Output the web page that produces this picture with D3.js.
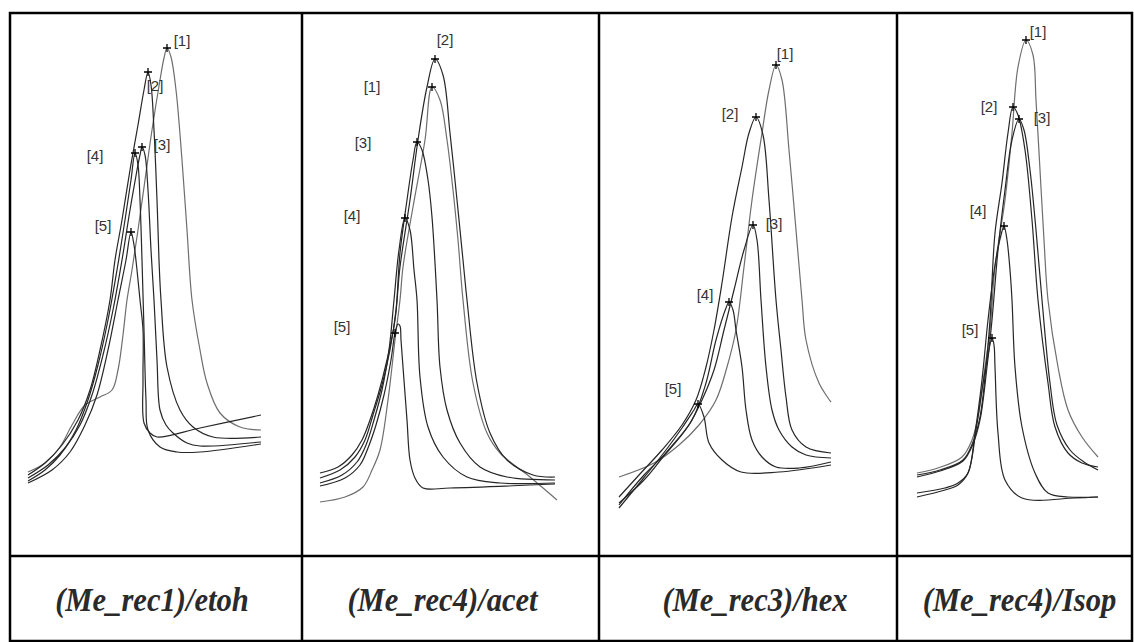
<!DOCTYPE html>
<html>
<head>
<meta charset="utf-8">
<script src="https://cdn.jsdelivr.net/npm/d3@7"></script>
<style>
  body { margin: 0; background: #fff; }
</style>
</head>
<body>
<div id="chart"></div>
<script>
"use strict";

const WIDTH = 1134, HEIGHT = 642;

// column titles
var titles = ["(Me_rec1)/etoh", "(Me_rec4)/acet", "(Me_rec3)/hex", "(Me_rec4)/Isop"];
var peakNames = ["[1]", "[2]", "[3]", "[4]", "[5]"];

// traces: [time, signal], one array per injection
var etohCurves = [
  [[18,58],[35,67],[50,83],[62,105],[75,125],[90,133],[102,140],[108,160],[113,195],[117,230],[122,260],[128,300],[135,350],[142,400],[150,450],[154,472],[157,482],[161,473],[166,440],[172,370],[177,300],[182,230],[190,180],[197,147],[210,117],[230,103],[251,100]],
  [[18,55],[35,67],[52,85],[68,110],[80,140],[90,180],[100,230],[105,270],[112,310],[120,360],[128,405],[134,440],[138,458],[141,445],[144,400],[147,330],[149,270],[151,230],[157,163],[170,120],[183,103],[203,93],[251,93]],
  [[18,52],[38,65],[55,82],[70,105],[82,135],[93,175],[103,220],[112,270],[120,320],[127,360],[130,375],[132,383],[135,375],[138,340],[141,280],[144,230],[147,170],[150,120],[156,105],[163,97],[177,87],[190,84],[251,88]],
  [[18,49],[35,60],[50,75],[66,100],[78,130],[88,165],[98,210],[107,260],[115,310],[121,350],[125,377],[128,365],[130,330],[132,270],[134,200],[136,130],[138,100],[150,83],[167,78],[190,78],[251,86]],
  [[18,47],[42,60],[60,78],[75,105],[87,135],[98,180],[108,230],[116,270],[121,298],[124,285],[127,260],[130,230],[133,200],[133,150],[134,107],[140,97],[147,93],[190,102],[251,115]]
];
var etohPeaks = [[157,482],[138,458],[132,383],[125,377],[121,298]];

var acetCurves = [
  [[18,28],[43,33],[61,43],[70,60],[78,80],[86,130],[93,190],[98,230],[101,263],[111,323],[123,390],[130,443],[138,430],[145,390],[151,340],[156,290],[161,230],[171,147],[185,97],[198,77],[228,53],[255,30]],
  [[18,57],[36,63],[50,75],[60,90],[68,110],[76,135],[85,170],[93,210],[98,263],[108,330],[116,390],[125,443],[133,471],[141,455],[148,397],[155,330],[161,270],[165,230],[175,147],[188,97],[205,70],[231,55],[253,53]],
  [[18,52],[38,60],[53,73],[63,90],[71,115],[80,145],[88,180],[94,220],[98,277],[105,330],[111,370],[115,388],[120,380],[126,350],[130,313],[135,230],[138,163],[145,120],[158,87],[178,63],[205,53],[253,50]],
  [[18,47],[40,55],[55,68],[64,85],[72,110],[80,140],[87,180],[92,230],[97,280],[103,312],[108,300],[112,260],[115,230],[118,153],[126,103],[141,73],[165,53],[198,47],[253,47]],
  [[18,44],[43,52],[58,65],[66,82],[74,105],[82,135],[89,170],[93,197],[96,206],[98,204],[99,190],[101,163],[105,110],[108,70],[113,52],[121,42],[148,42],[253,46]]
];
var acetPeaks = [[130,443],[133,471],[115,388],[103,312],[93,197]];

var hexCurves = [
  [[20,53],[55,67],[80,85],[100,105],[117,130],[128,163],[137,200],[145,263],[153,330],[163,397],[170,440],[177,465],[183,450],[190,380],[197,300],[203,230],[207,190],[220,147],[232,128]],
  [[20,33],[40,55],[63,80],[83,105],[97,130],[107,163],[115,200],[123,247],[133,313],[143,363],[150,397],[157,413],[164,395],[170,330],[177,230],[182,180],[187,133],[193,100],[207,83],[232,77]],
  [[20,25],[45,55],[70,80],[90,105],[103,130],[115,160],[125,200],[135,240],[145,280],[154,305],[158,290],[162,230],[167,163],[173,120],[180,100],[193,83],[207,75],[232,72]],
  [[20,27],[45,50],[67,77],[93,110],[107,147],[117,190],[127,222],[130,228],[134,220],[137,200],[143,163],[147,120],[153,90],[163,73],[177,63],[200,62],[232,68]],
  [[20,22],[43,50],[67,80],[83,102],[95,120],[99,126],[105,113],[110,87],[123,70],[142,58],[180,58],[232,65]]
];
var hexPeaks = [[177,465],[157,413],[154,305],[130,228],[99,126]];

var isopCurves = [
  [[20,57],[41,62],[65,73],[75,90],[81,113],[88,163],[93,200],[98,263],[108,330],[115,397],[121,463],[129,490],[136,475],[139,430],[143,360],[147,290],[151,230],[161,163],[171,120],[185,93],[201,73]],
  [[20,55],[43,60],[66,70],[76,88],[83,113],[89,163],[93,210],[98,297],[105,347],[111,397],[116,423],[121,415],[128,380],[135,310],[141,230],[151,147],[158,103],[171,77],[185,67],[201,63]],
  [[20,53],[43,59],[66,69],[76,86],[83,110],[90,163],[95,210],[101,280],[108,340],[115,390],[122,411],[127,400],[133,360],[139,300],[145,230],[153,147],[160,105],[173,80],[187,68],[201,60]],
  [[20,37],[48,42],[61,47],[71,57],[78,97],[85,150],[91,210],[98,265],[104,295],[107,304],[110,290],[113,260],[115,230],[118,163],[125,103],[138,57],[151,37],[171,33],[201,33]],
  [[20,33],[48,40],[61,45],[71,57],[79,100],[85,140],[91,175],[95,192],[97,185],[98,163],[101,97],[108,50],[125,32],[178,32],[201,33]]
];
var isopPeaks = [[129,490],[116,423],[122,411],[107,304],[95,192]];

// where each peak label sits relative to its marker (px)
var etohLabelOffsets = [[15,-8],[7,13],[20,-3],[-40,2],[-28,-7]];
var acetLabelOffsets = [[-60,-1],[10,-20],[-54,0],[-53,-3],[-53,-7]];
var hexLabelOffsets = [[9,-12],[-26,-4],[21,-2],[-24,-8],[-25,-16]];
var isopLabelOffsets = [[12,-9],[-24,-1],[23,-2],[-26,-16],[-22,-9]];

// small horizontal nudges of the titles inside their cells (px)
var titleNudge = [-4, -8, 7, 5];

var panels = [
  { left: 10,  right: 302,  curves: etohCurves, peaks: etohPeaks, offsets: etohLabelOffsets },
  { left: 302, right: 599,  curves: acetCurves, peaks: acetPeaks, offsets: acetLabelOffsets },
  { left: 599, right: 897,  curves: hexCurves,  peaks: hexPeaks,  offsets: hexLabelOffsets },
  { left: 897, right: 1132, curves: isopCurves, peaks: isopPeaks, offsets: isopLabelOffsets }
];

const TOP = 13, ROW = 556, BOTTOM = 641;

var svg = d3.select("#chart").append("svg")
  .attr("width", WIDTH)
  .attr("height", HEIGHT);

var yScale = d3.scaleLinear()
  .domain([0, 530])
  .range([530, 0]);

var traceColor = ["#6e6e6e", "#262626", "#262626", "#262626", "#262626"];

panels.forEach(function(p, i) {
  var xScale = d3.scaleLinear()
    .domain([0, 300])
    .range([p.left, p.left + 300]);

  var line = d3.line()
    .x(function(d) { return xScale(d[0]); })
    .y(function(d) { return yScale(d[1]); })
    .curve(d3.curveCatmullRom.alpha(0.5));

  var g = svg.append("g");

  g.selectAll("path.trace")
    .data(p.curves)
    .enter().append("path")
    .attr("class", "trace")
    .attr("fill", "none")
    .attr("stroke", function(d, k) { return traceColor[k]; })
    .attr("stroke-width", 1.2)
    .attr("d", line);

  // peak markers
  g.selectAll("path.mark")
    .data(p.peaks)
    .enter().append("path")
    .attr("class", "mark")
    .attr("stroke", "#000")
    .attr("stroke-width", 1.3)
    .attr("d", function(d) {
      var x = xScale(d[0]), y = yScale(d[1]);
      return "M" + (x - 4) + "," + y + "H" + (x + 4) + "M" + x + "," + (y - 4) + "V" + (y + 4);
    });

  g.selectAll("text.peak")
    .data(p.peaks)
    .enter().append("text")
    .attr("class", "peak")
    .attr("x", function(d, k) { return xScale(d[0]) + p.offsets[k][0]; })
    .attr("y", function(d, k) { return yScale(d[1]) + p.offsets[k][1]; })
    .attr("text-anchor", "middle")
    .attr("dominant-baseline", "central")
    .attr("font-family", "'Liberation Sans', Arial, sans-serif")
    .attr("font-size", 15)
    .attr("fill", "#333")
    .text(function(d, k) { return peakNames[k]; });

  var cx = (p.left + p.right) / 2 + titleNudge[i];
  svg.append("text")
    .attr("transform", "translate(" + cx + "," + ((ROW + BOTTOM) / 2 + 1) + ") scale(0.9,1)")
    .attr("text-anchor", "middle")
    .attr("dominant-baseline", "central")
    .attr("font-family", "'Liberation Serif', 'Times New Roman', serif")
    .attr("font-style", "italic")
    .attr("font-weight", "bold")
    .attr("font-size", 34)
    .attr("fill", "#2a2a2a")
    .text(titles[i]);
});

///////////////////
// Table borders //
///////////////////

var grid = svg.append("g")
  .attr("stroke", "#000")
  .attr("stroke-width", 2.5)
  .attr("fill", "none");

grid.append("rect")
  .attr("x", 10).attr("y", TOP)
  .attr("width", 1122).attr("height", BOTTOM - TOP);
grid.append("line")
  .attr("x1", 10).attr("x2", 1132)
  .attr("y1", ROW).attr("y2", ROW);
[302, 599, 897].forEach(function(x) {
  grid.append("line")
    .attr("x1", x).attr("x2", x)
    .attr("y1", TOP).attr("y2", BOTTOM);
});
</script>
</body>
</html>
